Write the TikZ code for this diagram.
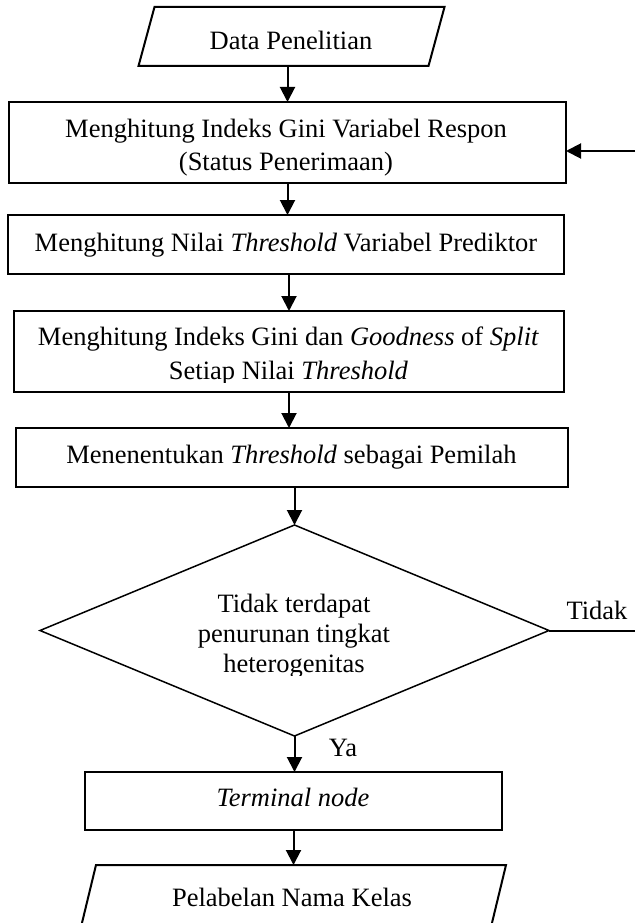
\documentclass[tikz,border=0pt]{standalone}
\usepackage{fontspec}
\setmainfont{Liberation Serif}
\usetikzlibrary{arrows.meta,shapes.geometric,calc}

\begin{document}
\begin{tikzpicture}[x=1pt,y=-1pt,
  every node/.style={inner sep=0pt, outer sep=0pt},
  txt/.style={font=\fontsize{26.5pt}{33.4pt}\selectfont, align=center, anchor=base},
  dtxt/.style={font=\fontsize{26.5pt}{30pt}\selectfont, align=center, anchor=base},
  procbox/.style={draw, line width=2pt, rectangle},
  iobox/.style={rectangle},
  frame/.style={line width=2pt, line join=miter},
  decision/.style={draw, diamond, line width=1.5pt},
  arr/.style={line width=2pt, -{Triangle[width=15pt,length=15pt]}},
  conn/.style={line width=2pt}]
\useasboundingbox (0,0) rectangle (635,923);

% input parallelogram
\node[iobox, minimum width=290pt, minimum height=59pt] (data) at (291.5,36.5) {};
\draw[frame] ($(data.north west)+(8,0)$) -- ($(data.north east)+(8,0)$)
  -- ($(data.south east)+(-8,0)$) -- ($(data.south west)+(-8,0)$) -- cycle;
\node[txt] (tdata) at (291,49.5) {Data Penelitian};

% process boxes (multi-line texts are placed by the baseline of their last line)
\node[procbox, minimum width=557pt, minimum height=81pt] (b1) at (287.5,142.5) {};
\node[txt] (tb1) at (286,170.7) {Menghitung Indeks Gini Variabel Respon\\(Status Penerimaan)};

\node[procbox, minimum width=556pt, minimum height=59pt] (b2) at (286,244.5) {};
\node[txt] (tb2) at (286,251) {Menghitung Nilai \textit{Threshold} Variabel Prediktor};

\node[procbox, minimum width=550pt, minimum height=81pt] (b3) at (289,351.5) {};
\begin{scope}
  \clip (b3.north west) rectangle (b3.east |- 0,382);
  \node[txt] (tb3) at (288.5,379.2) {Menghitung Indeks Gini dan \textit{Goodness} of \textit{Split}\\Setiap Nilai \textit{Threshold}};
\end{scope}

\node[procbox, minimum width=552pt, minimum height=59pt] (b4) at (292,457.5) {};
\node[txt] (tb4) at (291.5,463.3) {Menenentukan \textit{Threshold} sebagai Pemilah};

% decision
\node[decision, minimum width=509pt, minimum height=211pt] (dec) at (294.5,630.5) {};
\begin{scope}
  \clip (dec.west |- 0,560) rectangle (dec.east |- 0,675);
  \node[dtxt] (tdec) at (294,672.7) {Tidak terdapat\\penurunan tingkat\\heterogenitas};
\end{scope}

\node[procbox, minimum width=417pt, minimum height=58pt] (b5) at (293.5,801) {};
\node[txt] (tb5) at (293,806.7) {\textit{Terminal node}};

% output parallelogram
\node[iobox, minimum width=410pt, minimum height=62pt] (out) at (293.5,896) {};
\draw[frame] ($(out.north west)+(7.5,0)$) -- ($(out.north east)+(7.5,0)$)
  -- ($(out.south east)+(-7.5,0)$) -- ($(out.south west)+(-7.5,0)$) -- cycle;
\node[txt] (tout) at (292,906) {Pelabelan Nama Kelas};

% flow
\draw[arr] (data.south -| b1.north) -- (b1.north);
\draw[arr] (b1.south) -- (b1.south |- b2.north);
\draw[arr] (b3.north |- b2.south) -- (b3.north);
\draw[arr] (b3.south) -- (b3.south |- b4.north);
\draw[arr] (dec.north |- b4.south) -- (dec.north);
\draw[arr] (dec.south) -- (dec.south |- b5.north);
\draw[arr] (b5.south) -- (b5.south |- out.north);

% loop back
\coordinate (loopout) at (635,630.5);
\coordinate (loopin) at (635,151);
\draw[conn] (dec.east) -- (loopout);
\draw[arr] (loopin) -- (loopin -| b1.east);

% branch labels
\node[txt] (tidak) at (597,619) {Tidak};
\node[txt] (ya) at (343,756.5) {Ya};
\end{tikzpicture}
\end{document}
